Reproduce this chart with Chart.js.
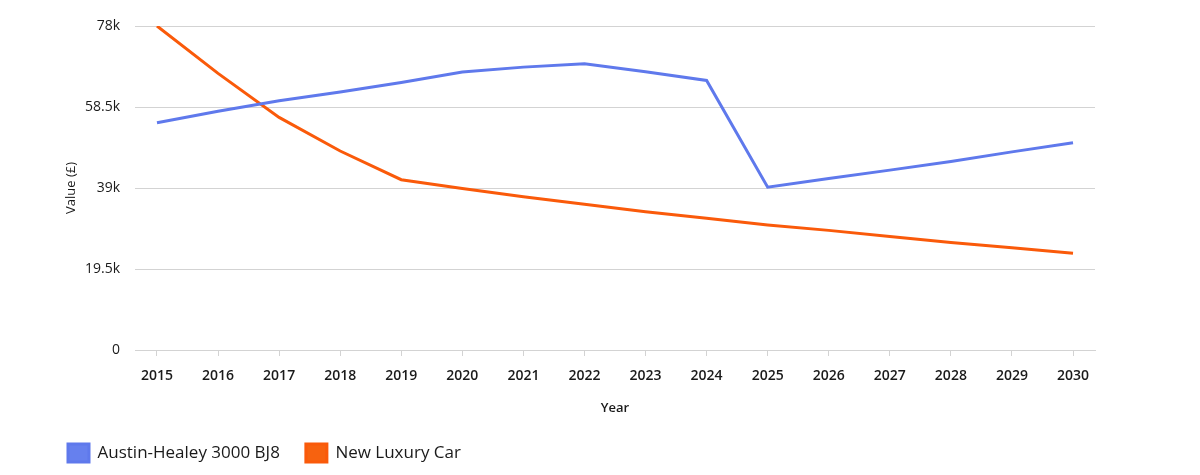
<!DOCTYPE html>
<html>
<head>
<meta charset="utf-8">
<script src="https://cdn.jsdelivr.net/npm/chart.js@4"></script>
<style>
    html, body { margin: 0; padding: 0; background: #fff; }
    #wrap { width: 1200px; height: 475px; }
</style>
</head>
<body>
<div id="wrap"><canvas id="valueChart"></canvas></div>
<script>
// Dane wykresu
const years = [2015, 2016, 2017, 2018, 2019, 2020, 2021, 2022, 2023, 2024, 2025, 2026, 2027, 2028, 2029, 2030];
const austinHealey = [54700, 57500, 60000, 62100, 64400, 66900, 68100, 68900, 67000, 64900, 39200, 41300, 43300, 45400, 47700, 49900];
const newLuxuryCar = [78000, 66600, 56000, 47900, 41000, 38900, 36900, 35100, 33300, 31700, 30100, 28800, 27300, 25900, 24600, 23300];
const yTicks = [0, 19500, 39000, 58500, 78000];

const TEXT = '#1a1a1a';
const GRID = '#d3d3d3';
const FONT = "'Open Sans', sans-serif";

const toPoints = values => values.map((v, i) => ({ x: years[i], y: v }));

new Chart(document.getElementById('valueChart'), {
    type: 'line',
    data: {
        datasets: [
            {
                label: 'Austin-Healey 3000 BJ8',
                data: toPoints(austinHealey),
                borderColor: '#5f79ec',
                backgroundColor: '#6680ee',
                borderWidth: 3,
                pointRadius: 0,
                tension: 0
            },
            {
                label: 'New Luxury Car',
                data: toPoints(newLuxuryCar),
                borderColor: '#fa5a0a',
                backgroundColor: '#f7620f',
                borderWidth: 3,
                pointRadius: 0,
                tension: 0
            }
        ]
    },
    options: {
        responsive: true,
        maintainAspectRatio: false,
        animation: false,
        layout: {
            padding: { left: 42, right: 105, top: 26, bottom: 3 }
        },
        plugins: {
            tooltip: { enabled: false },
            legend: {
                position: 'bottom',
                align: 'start',
                labels: {
                    boxWidth: 21,
                    boxHeight: 18,
                    padding: 26,
                    color: TEXT,
                    font: { family: FONT, size: 17 }
                }
            }
        },
        scales: {
            x: {
                type: 'linear',
                min: 2014.64,
                max: 2030.36,
                afterBuildTicks: scale => {
                    scale.ticks = years.map(y => ({ value: y }));
                },
                afterFit: scale => { scale.height = 68; },
                grid: {
                    drawOnChartArea: false,
                    drawTicks: true,
                    tickLength: 6,
                    color: GRID
                },
                border: { display: true, color: GRID },
                ticks: {
                    padding: 12,
                    color: TEXT,
                    maxRotation: 0,
                    autoSkip: false,
                    font: { family: FONT, size: 14, weight: 600 },
                    callback: v => String(v)
                },
                title: {
                    display: true,
                    text: 'Year',
                    color: TEXT,
                    padding: { top: 0, bottom: 2 },
                    font: { family: FONT, size: 13, weight: 600 }
                }
            },
            y: {
                min: 0,
                max: 78000,
                afterBuildTicks: scale => {
                    scale.ticks = yTicks.map(v => ({ value: v }));
                },
                afterFit: scale => { scale.width = 93; },
                grid: {
                    drawTicks: false,
                    color: GRID
                },
                border: { display: false },
                ticks: {
                    padding: 15,
                    color: TEXT,
                    font: { family: FONT, size: 14, weight: 500 },
                    callback: v => v === 0 ? '0' : (v / 1000) + 'k'
                },
                title: {
                    display: true,
                    text: 'Value (£)',
                    color: TEXT,
                    padding: { top: 21, bottom: 0 },
                    font: { family: FONT, size: 13, weight: 500 }
                }
            }
        }
    }
});
</script>
</body>
</html>
